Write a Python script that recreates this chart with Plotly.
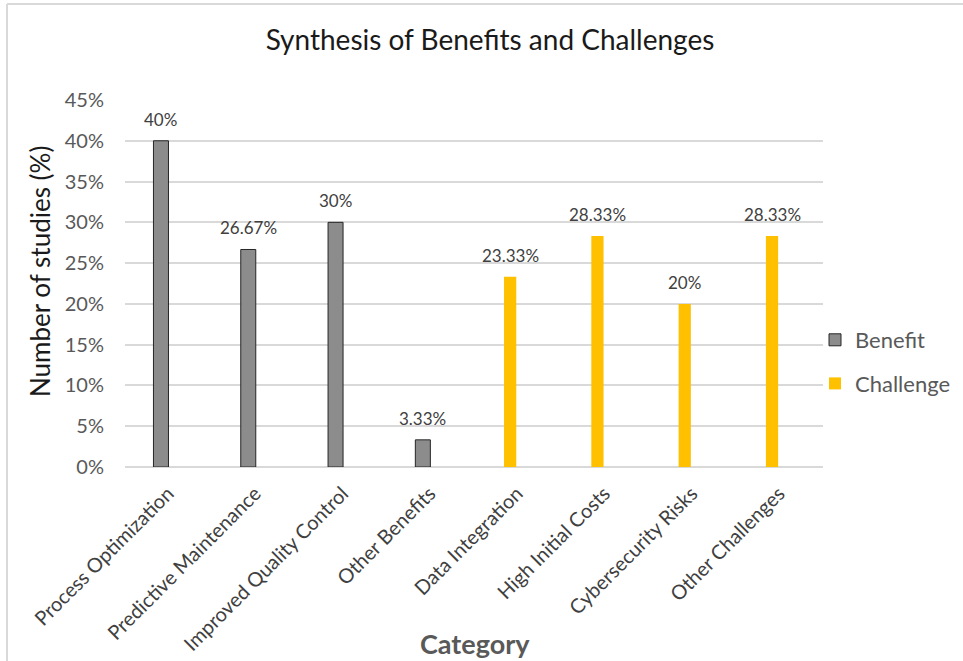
import plotly.graph_objects as go

categories = ["Process Optimization", "Predictive Maintenance", "Improved Quality Control",
              "Other Benefits", "Data Integration", "High Initial Costs",
              "Cybersecurity Risks", "Other Challenges"]
benefit = [40, 26.67, 30, 3.33, None, None, None, None]
challenge = [None, None, None, None, 23.33, 28.33, 20, 28.33]
y_ticks = [0, 5, 10, 15, 20, 25, 30, 35, 40, 45]
y_tick_labels = [f"{v}%" for v in y_ticks]

FONT = "Lato"
W, H = 963, 661
L, R, T, B = 125, 140, 100, 194
pw = W - L - R
ph = H - T - B

def px_x(x):
    return (x - L) / pw

def px_y(y):
    return (H - B - y) / ph

def lab(v):
    return f"{v:g}%"

fig = go.Figure()
fig.add_trace(go.Bar(
    x=categories, y=benefit, name="Benefit", width=0.172,
    marker=dict(color="#8c8c8c", line=dict(color="#262626", width=1)),
    legendgroup="a",
))
fig.add_trace(go.Bar(
    x=categories, y=challenge, name="Challenge", width=0.14,
    marker=dict(color="#FFC000", line=dict(width=0)),
    legendgroup="b",
))

annotations = []
for series in (benefit, challenge):
    for c, v in zip(categories, series):
        if v is None:
            continue
        annotations.append(dict(
            x=c, y=v, xref="x", yref="y", text=lab(v), showarrow=False,
            xanchor="center", yanchor="bottom", yshift=9,
            font=dict(family=FONT, size=17, color="#404040")))

annotations += [
    dict(text="Number of studies (%)", xref="paper", yref="paper",
         x=px_x(40), y=px_y(272), xanchor="center", yanchor="middle",
         textangle=-90, showarrow=False,
         font=dict(family=FONT, size=26, color="#1a1a1a")),
    dict(text="<b>Category</b>", xref="paper", yref="paper",
         x=px_x(475), y=px_y(643), xanchor="center", yanchor="middle",
         showarrow=False, font=dict(family=FONT, size=27, color="#595959")),
]

fig.update_layout(
    width=W, height=H,
    margin=dict(l=L, r=R, t=T, b=B, autoexpand=False),
    paper_bgcolor="white", plot_bgcolor="white",
    barmode="overlay",
    font=dict(family=FONT, color="#595959"),
    title=dict(text="Synthesis of Benefits and Challenges", x=(490) / W, xanchor="center",
               y=1 - 40 / H, yanchor="middle",
               font=dict(family=FONT, size=28, color="#1a1a1a")),
    legend=dict(x=px_x(815), xanchor="left", y=px_y(362), yanchor="middle",
                font=dict(family=FONT, size=22, color="#595959"),
                tracegroupgap=12, bgcolor="rgba(0,0,0,0)"),
    xaxis=dict(tickangle=-45, tickfont=dict(family=FONT, size=20, color="#404040"),
               range=[-0.412, 7.584], ticklabelshift=7, ticklabelstandoff=10,
               showgrid=False, showline=False, ticks="", zeroline=False),
    yaxis=dict(range=[0, 45], tickvals=y_ticks, ticktext=y_tick_labels,
               tickfont=dict(family=FONT, size=20, color="#595959"),
               showgrid=True, gridcolor="#d9d9d9", gridwidth=2,
               zeroline=True, zerolinecolor="#d9d9d9", zerolinewidth=2,
               ticks="", ticklabelstandoff=20, showline=False),
    annotations=annotations,
    shapes=[
        dict(type="line", xref="paper", yref="paper",
             x0=px_x(7), x1=px_x(W + 5), y0=px_y(4), y1=px_y(4),
             line=dict(color="#d9d9d9", width=2)),
        dict(type="line", xref="paper", yref="paper",
             x0=px_x(7), x1=px_x(7), y0=px_y(4), y1=px_y(H + 5),
             line=dict(color="#d9d9d9", width=2)),
    ],
)

fig.write_html("out.html")
